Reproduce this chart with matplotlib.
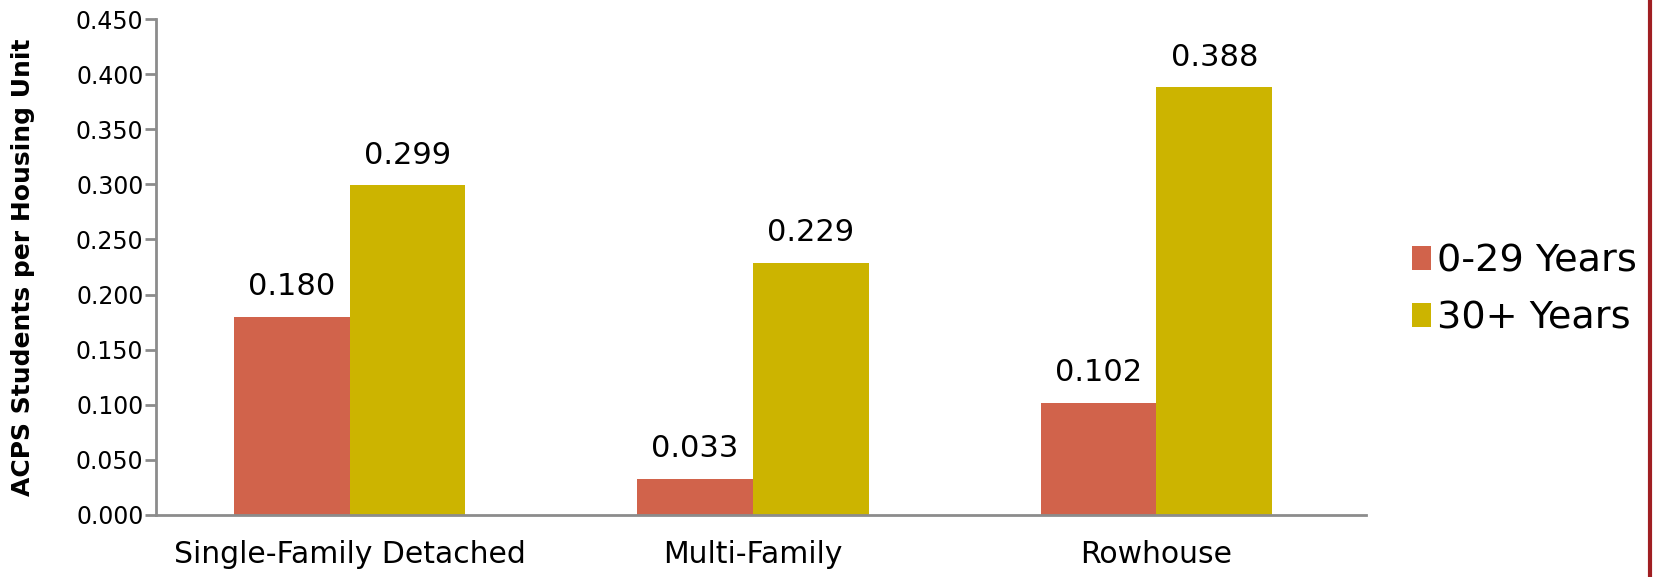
import numpy as np
import matplotlib
matplotlib.use('Agg')
import matplotlib.pyplot as plt
from matplotlib.lines import Line2D

categories = ['Single-Family Detached', 'Multi-Family', 'Rowhouse']
series_names = ['0-29 Years', '30+ Years']
young = [0.180, 0.033, 0.102]
old = [0.299, 0.229, 0.388]
colors = ['#D1634B', '#CCB400']

fig = plt.figure(figsize=(16.56, 5.77), dpi=100)
ax = fig.add_axes([0.0942, 0.1075, 0.7308, 0.8595])

x = np.arange(len(categories))
w = 0.287
b1 = ax.bar(x - w / 2, young, w, color=colors[0], label=series_names[0])
b2 = ax.bar(x + w / 2, old, w, color=colors[1], label=series_names[1])
for bars in (b1, b2):
    ax.bar_label(bars, labels=[f'{v:.3f}' for v in bars.datavalues],
                 padding=11, fontsize=22)

ax.set_xlim(-0.48, 2.52)
ax.set_ylim(0, 0.45)
ax.set_yticks(np.arange(0, 0.451, 0.05))
ax.set_yticklabels([f'{v:.3f}' for v in np.arange(0, 0.451, 0.05)])
ax.set_xticks(x)
ax.set_xticklabels(categories)

for s in ['top', 'right']:
    ax.spines[s].set_visible(False)
for s in ['left', 'bottom']:
    ax.spines[s].set_color('#8C8C8C')
    ax.spines[s].set_linewidth(2)
ax.tick_params(axis='y', labelsize=17, length=8, width=2, color='#8C8C8C', pad=1)
ax.tick_params(axis='x', labelsize=21.5, length=0, pad=18)

ax.set_ylabel('ACPS Students per Housing Unit', fontsize=18, fontweight='bold')
ax.yaxis.set_label_coords(-0.100, 0.5)

fig.legend(handles=[b1, b2], loc='center left', bbox_to_anchor=(0.841, 0.497),
           frameon=False, fontsize=27.5, handlelength=0.5, handleheight=0.6,
           handletextpad=0.15, labelspacing=0.55, borderpad=0)

fig.add_artist(Line2D([0.9965, 0.9965], [0, 1], transform=fig.transFigure,
                      color='#A01E22', linewidth=3))

fig.savefig('out.png', dpi=100)
